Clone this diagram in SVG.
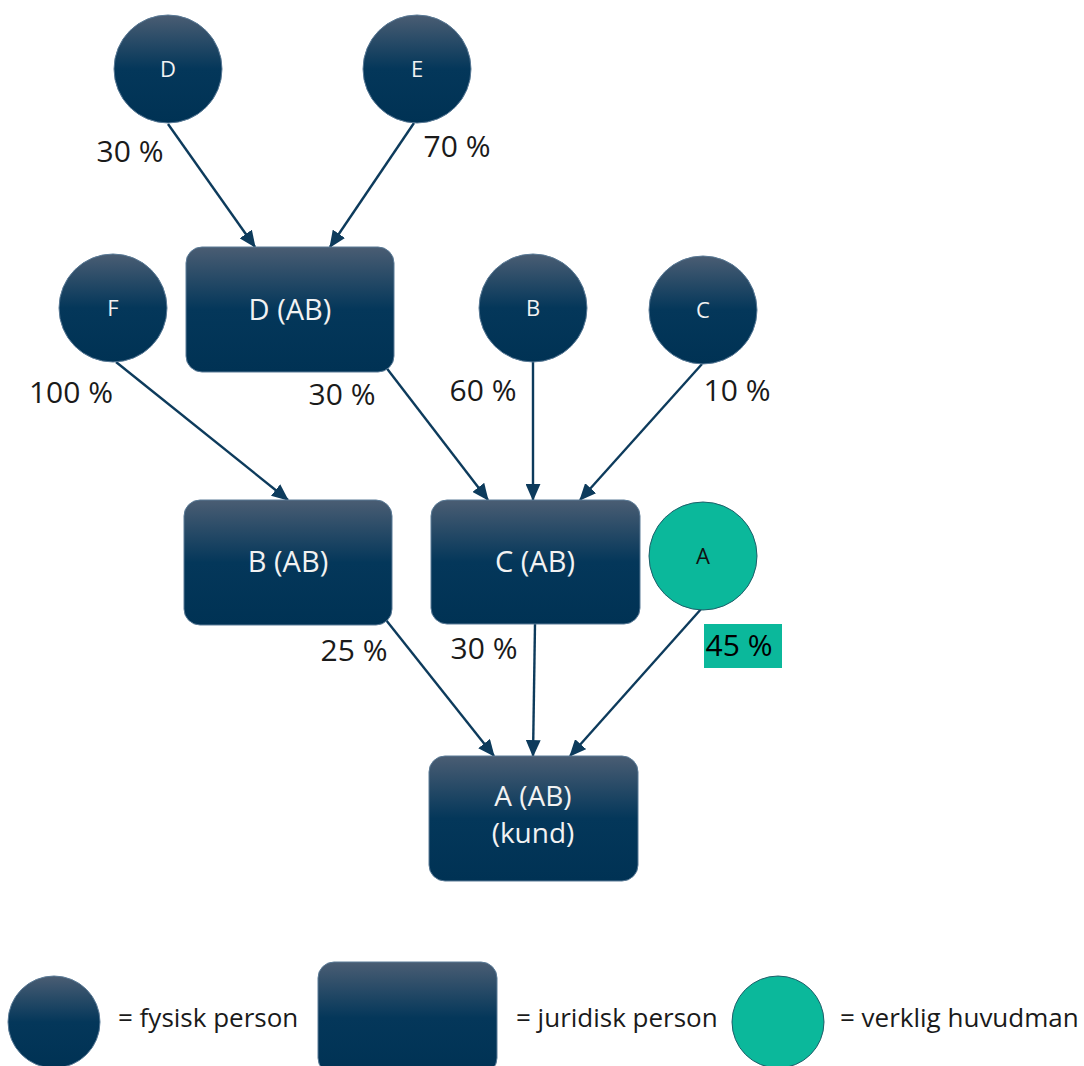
<svg xmlns="http://www.w3.org/2000/svg" width="1084" height="1066" viewBox="0 0 1084 1066">
<defs>
<linearGradient id="navy" x1="0" y1="0" x2="0" y2="1">
<stop offset="0" stop-color="#4a5d73"/>
<stop offset="0.5" stop-color="#04375a"/>
<stop offset="1" stop-color="#003254"/>
</linearGradient>
<marker id="arr" viewBox="0 0 16 14" refX="15" refY="7" markerWidth="17" markerHeight="15" markerUnits="userSpaceOnUse" orient="auto">
<path d="M0,0 L16,7 L0,14 z" fill="#0d3b5c"/>
</marker>
<style>
.n{fill:url(#navy);stroke:#5a7a96;stroke-width:1}
.g{fill:#0bb89b;stroke:#1f5f6a;stroke-width:1}
.c{stroke:#0d3b5c;stroke-width:2.4;fill:none;marker-end:url(#arr)}
.t{font-family:"Open Sans","DejaVu Sans",sans-serif;fill:#f2f2f2;text-anchor:middle}
.big{font-size:29px}
.sm{font-size:22px}
.p{font-family:"Open Sans","DejaVu Sans",sans-serif;font-size:30px;fill:#1a1a1a;text-anchor:middle}
.l{font-family:"Open Sans","DejaVu Sans",sans-serif;font-size:26px;fill:#1a1a1a}
</style>
</defs>
<rect width="1084" height="1066" fill="#ffffff"/>
<g id="connectors">
<path class="c" d="M168,124 L255,247"/>
<path class="c" d="M414,123 L330,247"/>
<path class="c" d="M116,362 L288,500"/>
<path class="c" d="M385,366 L488,500"/>
<path class="c" d="M533,362 L533,500"/>
<path class="c" d="M702,364 L580,500"/>
<path class="c" d="M386,620 L494,756"/>
<path class="c" d="M535,624 L533,756"/>
<path class="c" d="M702,608 L570,756"/>
</g>
<g id="labels">
<text class="p" x="130" y="162">30 %</text>
<text class="p" x="457" y="157">70 %</text>
<text class="p" x="71" y="403">100 %</text>
<text class="p" x="342" y="405">30 %</text>
<text class="p" x="483" y="401">60 %</text>
<text class="p" x="737" y="401">10 %</text>
<text class="p" x="354" y="661">25 %</text>
<text class="p" x="484" y="659">30 %</text>
<rect x="704" y="624" width="78" height="44" fill="#0bb89b"/>
<text class="p" x="739" y="656" style="fill:#000">45 %</text>
</g>
<g id="person-D"><circle class="n" cx="168" cy="69" r="54"/><text class="t sm" x="168" y="77">D</text></g>
<g id="person-E"><circle class="n" cx="417" cy="69" r="54"/><text class="t sm" x="417" y="77">E</text></g>
<g id="person-F"><circle class="n" cx="113" cy="308" r="54"/><text class="t sm" x="113" y="316">F</text></g>
<g id="person-B"><circle class="n" cx="533" cy="308" r="54"/><text class="t sm" x="533" y="316">B</text></g>
<g id="person-C"><circle class="n" cx="703" cy="310" r="54"/><text class="t sm" x="703" y="318">C</text></g>
<g id="person-A"><circle class="g" cx="703" cy="556" r="54"/><text class="t sm" x="703" y="564" style="fill:#111">A</text></g>
<g id="company-D"><rect class="n" x="186" y="247" width="208" height="125" rx="16"/><text class="t big" x="290" y="320">D (AB)</text></g>
<g id="company-B"><rect class="n" x="184" y="500" width="208" height="125" rx="16"/><text class="t big" x="288" y="572">B (AB)</text></g>
<g id="company-C"><rect class="n" x="431" y="500" width="209" height="124" rx="16"/><text class="t big" x="535" y="572">C (AB)</text></g>
<g id="company-A"><rect class="n" x="429" y="756" width="209" height="125" rx="16"/><text class="t" x="533" y="806" style="font-size:28px">A (AB)</text><text class="t" x="533" y="843" style="font-size:28px">(kund)</text></g>
<g id="legend">
<circle class="n" cx="54" cy="1022" r="46"/>
<text class="l" x="118" y="1027">= fysisk person</text>
<rect class="n" x="318" y="962" width="179" height="112" rx="16"/>
<text class="l" x="516" y="1027">= juridisk person</text>
<circle class="g" cx="778" cy="1022" r="46"/>
<text class="l" x="840" y="1027">= verklig huvudman</text>
</g>
</svg>
